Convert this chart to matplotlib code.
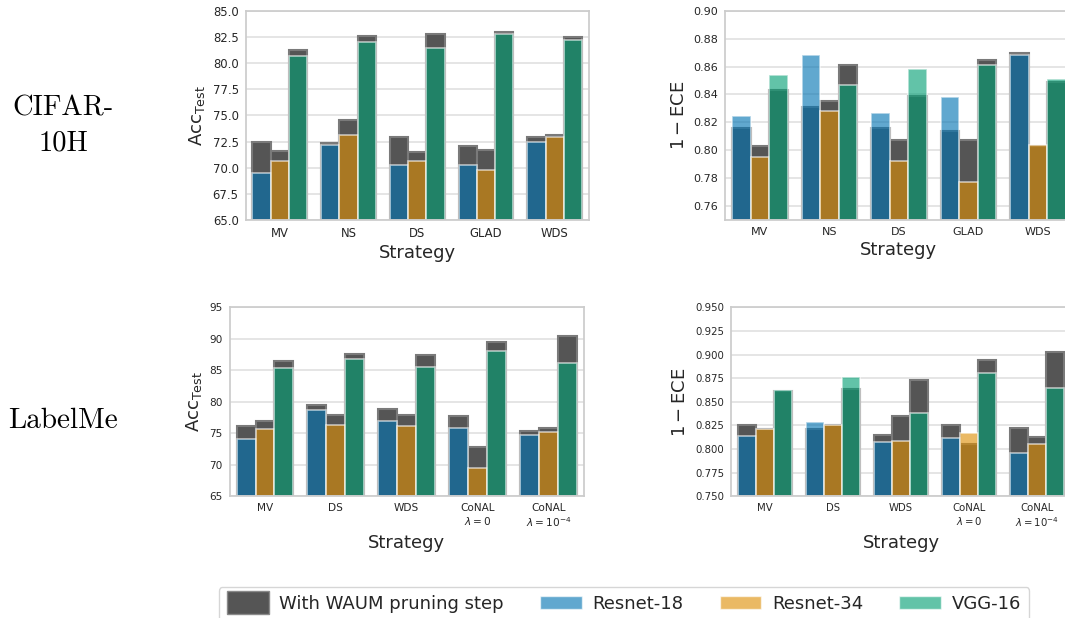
import matplotlib
matplotlib.use("Agg")
import matplotlib.pyplot as plt
import numpy as np
from matplotlib.patches import Patch, Rectangle
from matplotlib.legend_handler import HandlerPatch

# ---------------- data ----------------
models = ["Resnet-18", "Resnet-34", "VGG-16"]
colors = ["#0173b2", "#de8f05", "#029e73"]

cifar_strats = ["MV", "NS", "DS", "GLAD", "WDS"]
labelme_strats = ["MV", "DS", "WDS", "CoNAL\n$\\lambda=0$", "CoNAL\n$\\lambda=10^{-4}$"]

# CIFAR-10H accuracy: [strategy][model]
cifar_acc_waum = [[72.5, 71.6, 81.2], [72.4, 74.6, 82.6], [72.95, 71.5, 82.8],
                  [72.1, 71.7, 83.0], [72.9, 73.1, 82.5]]
cifar_acc = [[69.5, 70.6, 80.7], [72.2, 73.1, 82.0], [70.3, 70.6, 81.4],
             [70.3, 69.8, 82.8], [72.5, 72.9, 82.2]]
# CIFAR-10H 1-ECE
cifar_ece_waum = [[0.816, 0.803, 0.843], [0.831, 0.835, 0.861], [0.816, 0.807, 0.839],
                  [0.814, 0.807, 0.865], [0.870, 0.803, 0.849]]
cifar_ece = [[0.8245, 0.795, 0.854], [0.868, 0.828, 0.847], [0.827, 0.792, 0.858],
             [0.838, 0.777, 0.861], [0.868, 0.804, 0.851]]
# LabelMe accuracy
lm_acc_waum = [[76.2, 76.9, 86.5], [79.45, 77.95, 87.6], [78.8, 77.9, 87.45],
               [77.8, 72.8, 89.5], [75.35, 75.9, 90.4]]
lm_acc = [[74.1, 75.7, 85.4], [78.7, 76.4, 86.8], [76.9, 76.1, 85.6],
          [75.8, 69.5, 88.1], [74.8, 75.25, 86.2]]
# LabelMe 1-ECE
lm_ece_waum = [[0.826, 0.821, 0.861], [0.8215, 0.826, 0.864], [0.815, 0.835, 0.873],
               [0.826, 0.805, 0.894], [0.8225, 0.813, 0.9025]]
lm_ece = [[0.814, 0.821, 0.863], [0.829, 0.826, 0.876], [0.807, 0.8085, 0.838],
          [0.812, 0.817, 0.881], [0.796, 0.8055, 0.865]]

# ---------------- style ----------------
plt.rcParams.update({
    "font.family": "DejaVu Sans",
    "mathtext.fontset": "dejavusans",
    "axes.edgecolor": "#cccccc",
    "axes.linewidth": 1.25,
    "grid.color": "#e0e0e0",
    "grid.linewidth": 1.2,
    "xtick.color": "#262626",
    "ytick.color": "#262626",
    "text.color": "#262626",
    "axes.labelcolor": "#262626",
})

GRAY = "#555555"
ALPHA = 0.62

fig = plt.figure(figsize=(10.65, 6.18), dpi=100)

def panel(rect, strats, waum, base, ylim, yticks, fmt, ylabel, tfs):
    ax = fig.add_axes(rect)
    n = len(strats)
    w = 0.8 / 3
    x = np.arange(n)
    waum = np.array(waum)
    base = np.array(base)
    for j in range(3):
        pos = x + (j - 1) * w
        ax.bar(pos, waum[:, j] - ylim[0], bottom=ylim[0], width=w, color=GRAY,
               edgecolor="#7a7a7a", linewidth=1.5, zorder=2)
    for j in range(3):
        pos = x + (j - 1) * w
        ax.bar(pos, base[:, j] - ylim[0], bottom=ylim[0], width=w, color=colors[j],
               alpha=ALPHA, edgecolor="white", linewidth=1.2, zorder=3)
    ax.set_xlim(-0.5, n - 0.5)
    ax.set_ylim(*ylim)
    ax.set_yticks(yticks)
    ax.set_yticklabels([fmt % v for v in yticks], fontsize=tfs)
    ax.set_xticks(x)
    ax.set_xticklabels(strats, fontsize=tfs)
    ax.tick_params(length=0, pad=5)
    ax.yaxis.grid(True, zorder=0)
    ax.xaxis.grid(False)
    ax.set_axisbelow(True)
    ax.set_ylabel(ylabel, fontsize=13)
    ax.set_xlabel("Strategy", fontsize=13, labelpad=3)
    for s in ax.spines.values():
        s.set_zorder(5)
    return ax

panel([0.2306, 0.644, 0.3225, 0.3387], cifar_strats, cifar_acc_waum, cifar_acc,
      (65, 85), np.arange(65, 85.01, 2.5), "%.1f", r"Acc$_{\mathrm{Test}}$", 8.4)
panel([0.6808, 0.644, 0.3263, 0.3387], cifar_strats, cifar_ece_waum, cifar_ece,
      (0.75, 0.90), np.arange(0.76, 0.9001, 0.02), "%.2f", r"$1-$ECE", 8.0)
panel([0.2156, 0.1969, 0.3324, 0.3058], labelme_strats, lm_acc_waum, lm_acc,
      (65, 95), np.arange(65, 95.01, 5), "%d", r"Acc$_{\mathrm{Test}}$", 7.6)
panel([0.6864, 0.1969, 0.3192, 0.3058], labelme_strats, lm_ece_waum, lm_ece,
      (0.75, 0.95), np.arange(0.75, 0.9501, 0.025), "%.3f", r"$1-$ECE", 7.3)

# row labels
fig.text(63 / 1065, 1 - 126 / 618, "CIFAR-\n10H", family="cmr10", fontsize=20.5,
         ha="center", va="center", linespacing=1.45, color="black")
fig.text(63 / 1065, 1 - 421 / 618, "LabelMe", family="cmr10", fontsize=21,
         ha="center", va="center", color="black")

# legend
class BigHandler(HandlerPatch):
    def create_artists(self, legend, orig_handle, xdescent, ydescent, width,
                       height, fontsize, trans):
        h = height * 1.8
        p = Rectangle((-xdescent, -ydescent - (h - height) / 2), width, h,
                      facecolor=GRAY, edgecolor="#8a8a8a", linewidth=1.0,
                      transform=trans)
        return [p]

big = Patch(facecolor=GRAY, edgecolor="#8a8a8a")
handles = [big] + [Patch(facecolor=c, alpha=ALPHA, edgecolor="white") for c in colors]
labels = ["With WAUM pruning step"] + models
leg = fig.legend(handles, labels, loc="upper center", ncol=4,
                 bbox_to_anchor=(624 / 1065, 1 - 587 / 618), fontsize=13,
                 handlelength=2.3, handletextpad=0.6, columnspacing=2.0,
                 frameon=True, fancybox=True, edgecolor="#cccccc",
                 handler_map={big: BigHandler()}, borderpad=0.45,
                 borderaxespad=0.0)
leg.get_frame().set_linewidth(1.0)

fig.savefig("out.png", dpi=100)
